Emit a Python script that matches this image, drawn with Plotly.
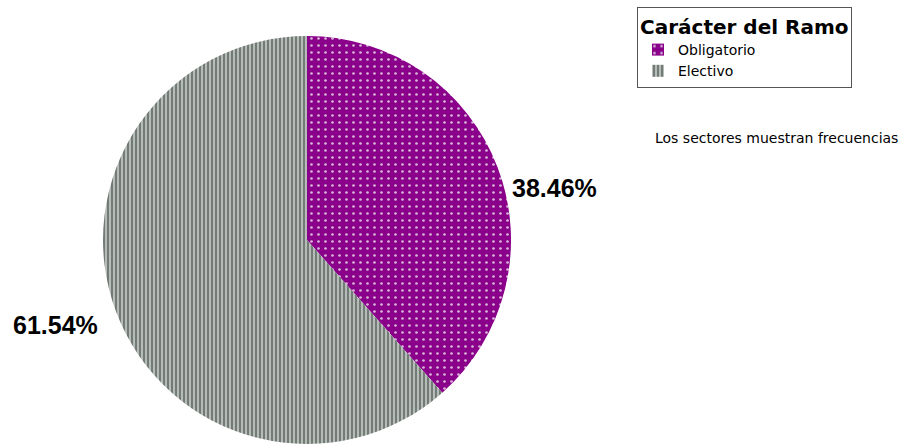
import plotly.graph_objects as go

categories = ["Obligatorio", "Electivo"]
values = [38.46, 61.54]
colors = ["#8b008b", "#737b76"]
label_texts = [f"{v:.2f}%" for v in values]

fig = go.Figure()
fig.add_trace(go.Pie(
    labels=categories,
    values=values,
    sort=False,
    direction="clockwise",
    rotation=0,
    marker=dict(
        colors=colors,
        line=dict(color="rgba(0,0,0,0)", width=0),
        pattern=dict(
            shape=[".", "|"],
            fgcolor=["#d8b8d8", "#e4e8e4"],
            bgcolor=colors,
            size=[7, 4],
            solidity=[0.12, 0.3],
        ),
    ),
    textinfo="none",
    automargin=False,
    showlegend=True,
    domain=dict(x=[103/917, 511/917], y=[1/445, 409/445]),
    hoverinfo="label+percent",
))

font_lbl = dict(family="Liberation Sans, Arial", size=25, color="black")
annotations = [
    dict(text=f"<b>{label_texts[0]}</b>", x=554/917, y=1-188/445, xref="paper", yref="paper",
         xanchor="center", yanchor="middle", showarrow=False, font=font_lbl),
    dict(text=f"<b>{label_texts[1]}</b>", x=55/917, y=1-325/445, xref="paper", yref="paper",
         xanchor="center", yanchor="middle", showarrow=False, font=font_lbl),
    dict(text="Los sectores muestran frecuencias",
         x=653/917, y=1-138/445, xref="paper", yref="paper",
         xanchor="left", yanchor="middle", showarrow=False,
         font=dict(size=14, family="DejaVu Sans", color="black")),
]

fig.update_layout(
    width=917, height=445,
    margin=dict(l=0, r=0, t=0, b=0),
    paper_bgcolor="white",
    plot_bgcolor="white",
    font=dict(family="DejaVu Sans", color="black"),
    legend=dict(
        x=637/917, y=1-7/445, xanchor="left", yanchor="top",
        bordercolor="#555555", borderwidth=1,
        bgcolor="white",
        title=dict(text="<b>Carácter del Ramo</b>", font=dict(size=20, family="DejaVu Sans")),
        font=dict(size=14, family="DejaVu Sans"),
        itemwidth=30,
        tracegroupgap=0,
    ),
    annotations=annotations,
)

fig.write_html("out.html", config={"displayModeBar": False},
               post_script="document.body.style.margin='0';")
